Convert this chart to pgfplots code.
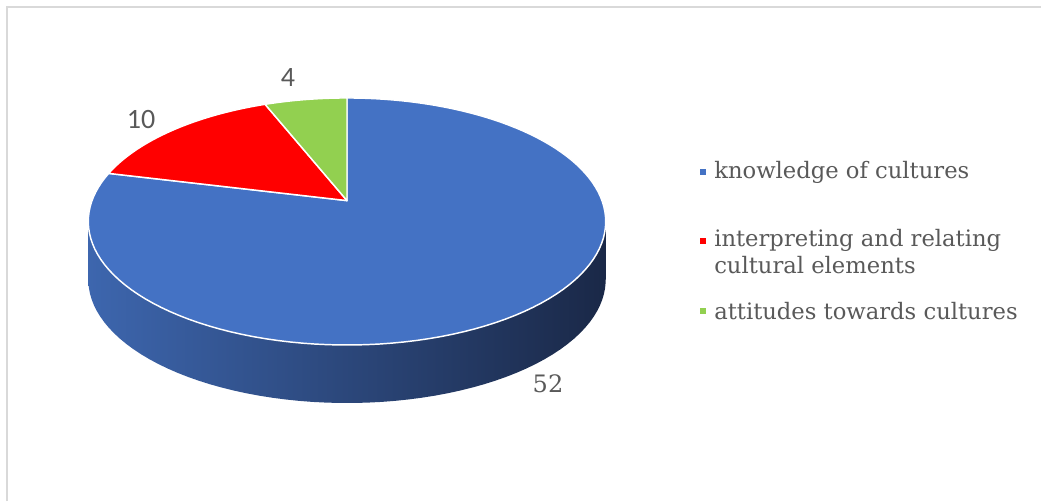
\documentclass[border=0pt]{standalone}
\usepackage{pgfplots}
\pgfplotsset{compat=1.18}
\usepackage{fontspec}
\setmainfont{DejaVu Serif}
\newfontfamily\numfont{Carlito}
\definecolor{cblue}{HTML}{4472C4}
\definecolor{cred}{HTML}{FF0000}
\definecolor{cgreen}{HTML}{92D050}
\definecolor{txt}{HTML}{595959}
\definecolor{sideL}{HTML}{3D66AE}
\definecolor{sideM}{HTML}{27406F}
\definecolor{sideR}{HTML}{1A2847}
\definecolor{framec}{HTML}{D9D9D9}
% data
\def\vA{52}\def\vB{10}\def\vC{4}
\pgfmathsetmacro\tot{\vA+\vB+\vC}
\pgfmathsetmacro\aA{\vA/\tot*360}
\pgfmathsetmacro\aB{(\vA+\vB)/\tot*360}
\begin{document}
\begin{tikzpicture}
\begin{axis}[width=780.75pt, height=375.75pt, scale only axis,
  xmin=0, xmax=1041, ymin=0, ymax=501, y dir=reverse,
  hide axis, clip=false]
\coordinate (bbBL) at (axis cs:0,501);
\coordinate (bbTR) at (axis cs:1041,0);
% frame
\draw[framec, line width=1.5pt] (axis cs:7,501) -- (axis cs:7,7) -- (axis cs:1041,7);
% side of the pie
\addplot[domain=0:360, samples=140, variable=\t, draw=none,
  left color=sideL, middle color=sideM, right color=sideR]
  ({347+255*sin(\t)/(1+0.169*cos(\t))},{258.6-120*cos(\t)/(1+0.169*cos(\t))}) -- cycle;
\addplot[draw=none, left color=sideL, middle color=sideM, right color=sideR]
  coordinates {(88.3,221.5) (605.7,221.5) (605.7,279.5) (88.3,279.5)} -- cycle;
% top face slices
\addplot[domain=0:\aA, samples=120, variable=\t, fill=cblue, draw=white, line width=1.1pt, line join=round]
  ({347+255*sin(\t)/(1+0.169*cos(\t))},{200.6-120*cos(\t)/(1+0.169*cos(\t))}) -- (axis cs:347,200.6) -- cycle;
\addplot[domain=\aA:\aB, samples=40, variable=\t, fill=cred, draw=white, line width=1.1pt, line join=round]
  ({347+255*sin(\t)/(1+0.169*cos(\t))},{200.6-120*cos(\t)/(1+0.169*cos(\t))}) -- (axis cs:347,200.6) -- cycle;
\addplot[domain=\aB:360, samples=20, variable=\t, fill=cgreen, draw=white, line width=1.1pt, line join=round]
  ({347+255*sin(\t)/(1+0.169*cos(\t))},{200.6-120*cos(\t)/(1+0.169*cos(\t))}) -- (axis cs:347,200.6) -- cycle;
% data labels
\node[text=txt, font=\fontsize{18}{21}\selectfont] at (axis cs:548,384) {52};
\node[text=txt, font=\numfont\fontsize{21}{24}\selectfont] at (axis cs:141,120) {10};
\node[text=txt, font=\numfont\fontsize{21}{24}\selectfont] at (axis cs:288,78) {4};
% legend
\node[fill=cblue, minimum size=5pt, inner sep=0pt] at (axis cs:703,172) {};
\node[fill=cred, minimum size=5pt, inner sep=0pt] at (axis cs:703,241) {};
\node[fill=cgreen, minimum size=5pt, inner sep=0pt] at (axis cs:703,311) {};
\node[anchor=west, text=txt, inner sep=0pt, font=\fontsize{17}{20.25}\selectfont] at (axis cs:714,172) {knowledge of cultures};
\node[anchor=north west, text=txt, inner sep=0pt, align=left, font=\fontsize{17}{20.25}\selectfont] at (axis cs:714,229) {interpreting and relating\\cultural elements};
\node[anchor=west, text=txt, inner sep=0pt, font=\fontsize{17}{20.25}\selectfont] at (axis cs:714,311) {attitudes towards cultures};
\end{axis}
\pgfresetboundingbox
\useasboundingbox (bbBL) rectangle (bbTR);
\end{tikzpicture}
\end{document}
